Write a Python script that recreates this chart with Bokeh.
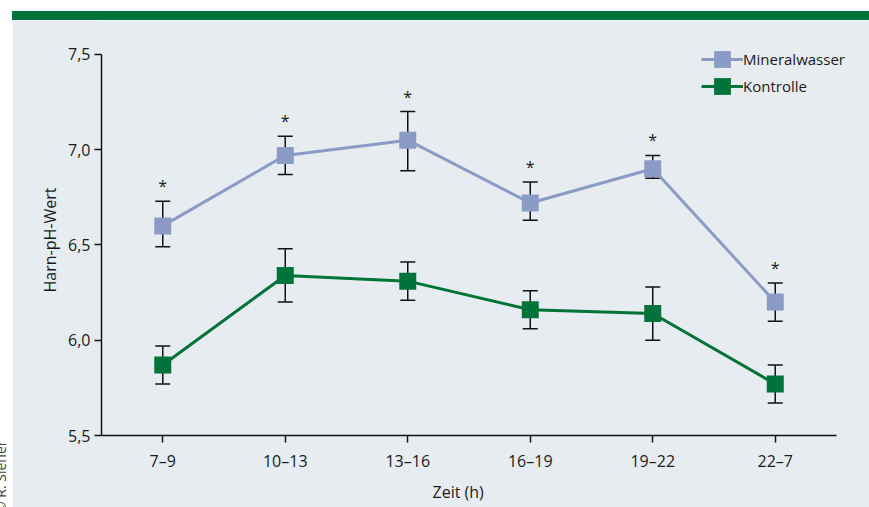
from bokeh.plotting import figure
from bokeh.layouts import column, row
from bokeh.models import (ColumnDataSource, Div, Legend, LegendItem, FixedTicker, Range1d, Title)
from bokeh.core.properties import value
from bokeh.embed import file_html
from bokeh.resources import INLINE

# ---- data ----
categories = ["7–9", "10–13", "13–16", "16–19", "19–22", "22–7"]
mineral_mean = [6.60, 6.97, 7.05, 6.72, 6.90, 6.20]
mineral_upper = [6.73, 7.07, 7.20, 6.83, 6.97, 6.30]
mineral_lower = [6.49, 6.87, 6.89, 6.63, 6.85, 6.10]
kontroll_mean = [5.87, 6.34, 6.31, 6.16, 6.14, 5.77]
kontroll_upper = [5.97, 6.48, 6.41, 6.26, 6.28, 5.87]
kontroll_lower = [5.77, 6.20, 6.21, 6.06, 6.00, 5.67]
significant = [True, True, True, True, True, True]
y_ticks = [5.5, 6.0, 6.5, 7.0, 7.5]
y_tick_labels = ["5,5", "6,0", "6,5", "7,0", "7,5"]
y_min, y_max = 5.5, 7.5
x_min, x_max = -0.5, len(categories) - 0.5

FONT = "Open Sans"
BG = "#E7ECF0"
GREEN = "#00733A"
BLUE = "#8C9AC6"
TXT = "#1A1A1A"

xs = list(range(len(categories)))

FIG_W, FIG_H = 857, 487
BORDER_L, BORDER_B = 89, 71
HEAD_TOP = 34    # frame px above the top tick (room for the legend)
HEAD_RIGHT = 33  # frame px right of the x axis end
frame_h = FIG_H - BORDER_B
frame_w = FIG_W - BORDER_L
py = (frame_h - HEAD_TOP) / (y_max - y_min)
px = (frame_w - HEAD_RIGHT) / (x_max - x_min)

p = figure(width=FIG_W, height=FIG_H, output_backend="svg", toolbar_location=None,
           x_range=Range1d(x_min, x_max + HEAD_RIGHT / px),
           y_range=Range1d(y_min, y_max + HEAD_TOP / py),
           min_border_left=BORDER_L, min_border_right=0,
           min_border_top=0, min_border_bottom=BORDER_B, margin=0)
p.background_fill_color = BG
p.border_fill_color = BG
p.outline_line_color = None
p.grid.visible = False

# axes
p.xaxis.ticker = FixedTicker(ticks=xs)
p.xaxis.major_label_overrides = {i: c for i, c in enumerate(categories)}
p.xaxis.bounds = (x_min, x_max)
p.yaxis.ticker = FixedTicker(ticks=y_ticks)
p.yaxis.major_label_overrides = {t: l for t, l in zip(y_ticks, y_tick_labels)}
p.yaxis.bounds = (y_min, y_max)
for ax in (p.xaxis, p.yaxis):
    ax.axis_line_color = "#111111"
    ax.axis_line_width = 1.5
    ax.major_tick_line_color = "#111111"
    ax.major_tick_line_width = 1.5
    ax.major_tick_in = 0
    ax.major_tick_out = 7
    ax.minor_tick_line_color = None
    ax.major_label_text_font = FONT
    ax.major_label_text_font_size = "16px"
    ax.major_label_text_color = TXT
p.xaxis.major_label_standoff = 7
p.yaxis.major_label_standoff = 4

# axis titles, positioned from the frame's start
title_style = dict(text_font=FONT, text_font_size="16px", text_font_style="normal",
                   text_color=TXT, align="left")
p.add_layout(Title(text="Zeit (h)", offset=331, standoff=9, **title_style), "below")
p.add_layout(Title(text="Harn-pH-Wert", offset=143, standoff=10, **title_style), "left")

src_m = ColumnDataSource(dict(x=xs, y=mineral_mean, up=mineral_upper, lo=mineral_lower))
src_k = ColumnDataSource(dict(x=xs, y=kontroll_mean, up=kontroll_upper, lo=kontroll_lower))

for src in (src_m, src_k):
    p.segment(x0="x", y0="lo", x1="x", y1="up", source=src, line_color="#111111", line_width=1.5)
    p.scatter(x="x", y="up", source=src, marker="dash", size=15, line_color="#111111", line_width=1.5)
    p.scatter(x="x", y="lo", source=src, marker="dash", size=15, line_color="#111111", line_width=1.5)

lm = p.line(x="x", y="y", source=src_m, line_color=BLUE, line_width=3)
sm = p.scatter(x="x", y="y", source=src_m, marker="square", size=17, fill_color=BLUE, line_color=None)
lk = p.line(x="x", y="y", source=src_k, line_color=GREEN, line_width=3)
sk = p.scatter(x="x", y="y", source=src_k, marker="square", size=17, fill_color=GREEN, line_color=None)

# significance asterisks
ast_x = [x for x, s in zip(xs, significant) if s]
ast_y = [u for u, s in zip(mineral_upper, significant) if s]
p.text(x=ast_x, y=ast_y, text=["*"] * len(ast_x), text_align="center", text_baseline="alphabetic",
       y_offset=-15, text_font=value(FONT), text_font_size="16px", text_color=TXT)

legend_style = dict(glyph_width=42, glyph_height=42, padding=0, margin=0, label_standoff=0,
                    background_fill_alpha=0, border_line_color=None, label_text_font=FONT,
                    label_text_font_size="15px", label_text_color=TXT)
p.add_layout(Legend(items=[LegendItem(label="Mineralwasser", renderers=[lm, sm])],
                    location=(600, 355), **legend_style))
p.add_layout(Legend(items=[LegendItem(label="Kontrolle", renderers=[lk, sk])],
                    location=(600, 328), **legend_style))

# page decorations: white margins, green header bar, copyright
top_white = Div(width=869, height=11, margin=0, styles={"background-color": "white"})
bar_left = Div(width=12, height=9, margin=0, styles={"background-color": "white"})
bar = Div(width=857, height=9, margin=0, styles={"background-color": GREEN})
strip = Div(width=12, height=FIG_H, margin=0,
            styles={"background-color": "white", "overflow": "hidden", "position": "relative"},
            text='<span style="position:absolute; left:-6px; top:493px; transform-origin:0 0; '
                 'transform:rotate(-90deg); white-space:nowrap; font-family:\'Open Sans\'; '
                 'font-size:14px; line-height:14px; color:#444444;">© R. Siener</span>')

layout = column(top_white, row(bar_left, bar, spacing=0, margin=0),
                row(strip, p, spacing=0, margin=0), spacing=0, margin=0)

open("out.html", "w").write(file_html(layout, INLINE))
